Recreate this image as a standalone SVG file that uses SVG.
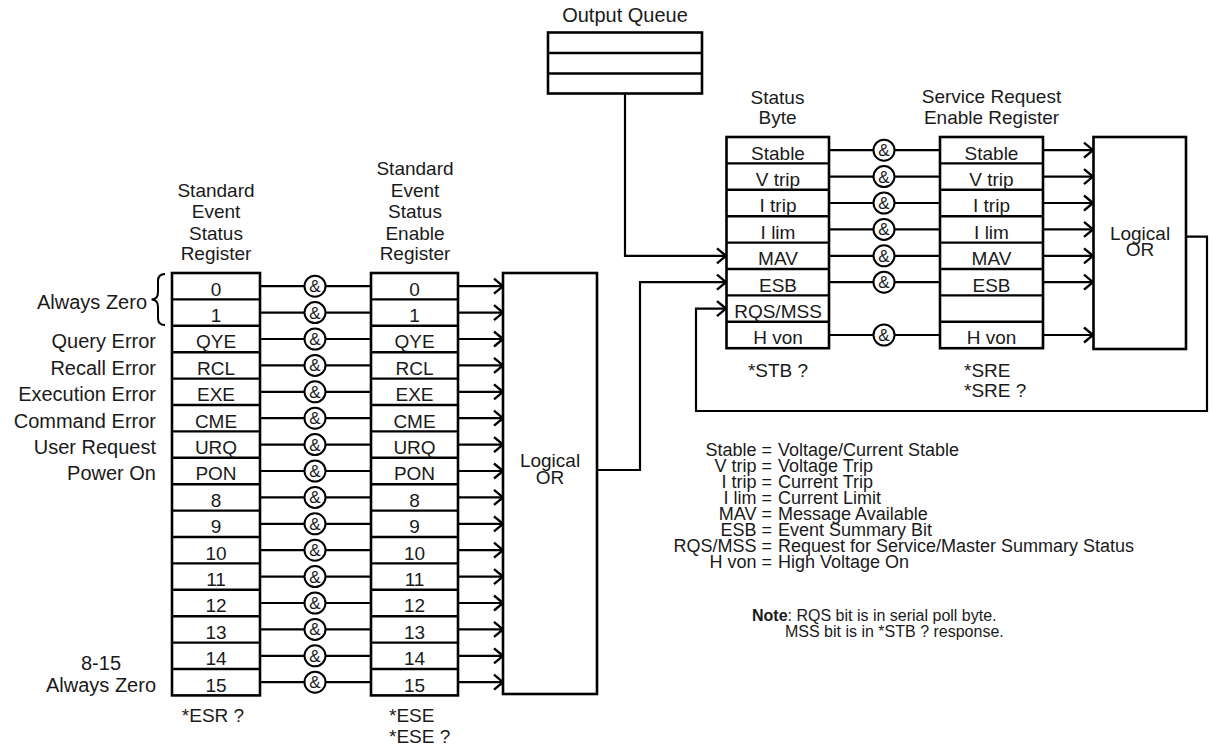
<svg xmlns="http://www.w3.org/2000/svg" width="1212" height="751" viewBox="0 0 1212 751">
<style>
.box{fill:#fff;stroke:#000;stroke-width:2.6}
.div{stroke:#000;stroke-width:2.4}
.ln{fill:none;stroke:#000;stroke-width:2.2}
text{font-family:"Liberation Sans",Arial,sans-serif;fill:#1a1a1a}
.t{font-size:19px;text-anchor:middle}
.lbl{font-size:20px;text-anchor:end}
.lg{font-size:18px}
.nt{font-size:16px}
.gate circle{fill:#fff;stroke:#000;stroke-width:2}
.gate text{font-size:17px;text-anchor:middle}
</style>
<defs>
<marker id="chev" markerUnits="userSpaceOnUse" markerWidth="14" markerHeight="18" refX="11" refY="9" orient="auto" overflow="visible">
<path d="M2,1.5 L11,9 L2,16.5" fill="none" stroke="#000" stroke-width="2.4"/>
</marker>
</defs>

<g id="connectors">
<path class="ln" d="M260,286.2H371M260,312.6H371M260,339H371M260,365.4H371M260,391.8H371M260,418.2H371M260,444.6H371M260,471H371M260,497.4H371M260,523.8H371M260,550.2H371M260,576.6H371M260,603H371M260,629.4H371M260,655.8H371M260,682.2H371"/>
<g marker-end="url(#chev)">
<line class="ln" x1="458" y1="286.2" x2="503" y2="286.2"/>
<line class="ln" x1="458" y1="312.6" x2="503" y2="312.6"/>
<line class="ln" x1="458" y1="339" x2="503" y2="339"/>
<line class="ln" x1="458" y1="365.4" x2="503" y2="365.4"/>
<line class="ln" x1="458" y1="391.8" x2="503" y2="391.8"/>
<line class="ln" x1="458" y1="418.2" x2="503" y2="418.2"/>
<line class="ln" x1="458" y1="444.6" x2="503" y2="444.6"/>
<line class="ln" x1="458" y1="471" x2="503" y2="471"/>
<line class="ln" x1="458" y1="497.4" x2="503" y2="497.4"/>
<line class="ln" x1="458" y1="523.8" x2="503" y2="523.8"/>
<line class="ln" x1="458" y1="550.2" x2="503" y2="550.2"/>
<line class="ln" x1="458" y1="576.6" x2="503" y2="576.6"/>
<line class="ln" x1="458" y1="603" x2="503" y2="603"/>
<line class="ln" x1="458" y1="629.4" x2="503" y2="629.4"/>
<line class="ln" x1="458" y1="655.8" x2="503" y2="655.8"/>
<line class="ln" x1="458" y1="682.2" x2="503" y2="682.2"/>
<polyline class="ln" points="597,470 640,470 640,282.2 726,282.2"/>
<polyline class="ln" points="625,93 625,255.8 726,255.8"/>
<polyline class="ln" points="1186,236.7 1207,236.7 1207,411 696,411 696,308.6 726,308.6"/>
<line class="ln" x1="1043" y1="150.2" x2="1093" y2="150.2"/>
<line class="ln" x1="1043" y1="176.6" x2="1093" y2="176.6"/>
<line class="ln" x1="1043" y1="203" x2="1093" y2="203"/>
<line class="ln" x1="1043" y1="229.4" x2="1093" y2="229.4"/>
<line class="ln" x1="1043" y1="255.8" x2="1093" y2="255.8"/>
<line class="ln" x1="1043" y1="282.2" x2="1093" y2="282.2"/>
<line class="ln" x1="1043" y1="335" x2="1093" y2="335"/>
</g>
<path class="ln" d="M829,150.2H940M829,176.6H940M829,203H940M829,229.4H940M829,255.8H940M829,282.2H940M829,335H940"/>
</g>

<g id="gates" class="gate">
<circle cx="315" cy="286.2" r="10.5"/><text x="315" y="292.2">&amp;</text>
<circle cx="315" cy="312.6" r="10.5"/><text x="315" y="318.6">&amp;</text>
<circle cx="315" cy="339" r="10.5"/><text x="315" y="345">&amp;</text>
<circle cx="315" cy="365.4" r="10.5"/><text x="315" y="371.4">&amp;</text>
<circle cx="315" cy="391.8" r="10.5"/><text x="315" y="397.8">&amp;</text>
<circle cx="315" cy="418.2" r="10.5"/><text x="315" y="424.2">&amp;</text>
<circle cx="315" cy="444.6" r="10.5"/><text x="315" y="450.6">&amp;</text>
<circle cx="315" cy="471" r="10.5"/><text x="315" y="477">&amp;</text>
<circle cx="315" cy="497.4" r="10.5"/><text x="315" y="503.4">&amp;</text>
<circle cx="315" cy="523.8" r="10.5"/><text x="315" y="529.8">&amp;</text>
<circle cx="315" cy="550.2" r="10.5"/><text x="315" y="556.2">&amp;</text>
<circle cx="315" cy="576.6" r="10.5"/><text x="315" y="582.6">&amp;</text>
<circle cx="315" cy="603" r="10.5"/><text x="315" y="609">&amp;</text>
<circle cx="315" cy="629.4" r="10.5"/><text x="315" y="635.4">&amp;</text>
<circle cx="315" cy="655.8" r="10.5"/><text x="315" y="661.8">&amp;</text>
<circle cx="315" cy="682.2" r="10.5"/><text x="315" y="688.2">&amp;</text>
<circle cx="884" cy="150.2" r="10.5"/><text x="884" y="156.2">&amp;</text>
<circle cx="884" cy="176.6" r="10.5"/><text x="884" y="182.6">&amp;</text>
<circle cx="884" cy="203" r="10.5"/><text x="884" y="209">&amp;</text>
<circle cx="884" cy="229.4" r="10.5"/><text x="884" y="235.4">&amp;</text>
<circle cx="884" cy="255.8" r="10.5"/><text x="884" y="261.8">&amp;</text>
<circle cx="884" cy="282.2" r="10.5"/><text x="884" y="288.2">&amp;</text>
<circle cx="884" cy="335" r="10.5"/><text x="884" y="341">&amp;</text>
</g>

<g id="esr">
<text class="t" x="216" y="197">Standard</text>
<text class="t" x="216" y="218">Event</text>
<text class="t" x="216" y="239.5">Status</text>
<text class="t" x="216" y="260">Register</text>
<rect class="box" x="172" y="273" width="88" height="422.4"/>
<path class="div" d="M172,299.4H260M172,325.8H260M172,352.2H260M172,378.6H260M172,405H260M172,431.4H260M172,457.8H260M172,484.2H260M172,510.6H260M172,537H260M172,563.4H260M172,589.8H260M172,616.2H260M172,642.6H260M172,669H260"/>
<text class="t" x="216" y="295.5">0</text>
<text class="t" x="216" y="321.9">1</text>
<text class="t" x="216" y="348.3">QYE</text>
<text class="t" x="216" y="374.7">RCL</text>
<text class="t" x="216" y="401.1">EXE</text>
<text class="t" x="216" y="427.5">CME</text>
<text class="t" x="216" y="453.9">URQ</text>
<text class="t" x="216" y="480.3">PON</text>
<text class="t" x="216" y="506.7">8</text>
<text class="t" x="216" y="533.1">9</text>
<text class="t" x="216" y="559.5">10</text>
<text class="t" x="216" y="585.9">11</text>
<text class="t" x="216" y="612.3">12</text>
<text class="t" x="216" y="638.7">13</text>
<text class="t" x="216" y="665.1">14</text>
<text class="t" x="216" y="691.5">15</text>
<text class="t" x="213" y="721.5">*ESR ?</text>
</g>

<g id="esr-labels">
<text class="lbl" x="147" y="308.5">Always Zero</text>
<path d="M165,274 Q158,274 158,281 L158,292 Q158,299.5 151.5,299.5 Q158,299.5 158,307 L158,318 Q158,325 165,325" fill="none" stroke="#000" stroke-width="2"/>
<text class="lbl" x="156" y="348.3">Query Error</text>
<text class="lbl" x="156" y="374.7">Recall Error</text>
<text class="lbl" x="156" y="401.1">Execution Error</text>
<text class="lbl" x="156" y="427.5">Command Error</text>
<text class="lbl" x="156" y="453.9">User Request</text>
<text class="lbl" x="156" y="480.3">Power On</text>
<text class="lbl" x="101" y="670" style="text-anchor:middle">8-15</text>
<text class="lbl" x="101" y="691.5" style="text-anchor:middle">Always Zero</text>
</g>

<g id="ese">
<text class="t" x="415" y="175">Standard</text>
<text class="t" x="415" y="196.5">Event</text>
<text class="t" x="415" y="218">Status</text>
<text class="t" x="415" y="239.5">Enable</text>
<text class="t" x="415" y="260">Register</text>
<rect class="box" x="371" y="273" width="87" height="422.4"/>
<path class="div" d="M371,299.4H458M371,325.8H458M371,352.2H458M371,378.6H458M371,405H458M371,431.4H458M371,457.8H458M371,484.2H458M371,510.6H458M371,537H458M371,563.4H458M371,589.8H458M371,616.2H458M371,642.6H458M371,669H458"/>
<text class="t" x="414.5" y="295.5">0</text>
<text class="t" x="414.5" y="321.9">1</text>
<text class="t" x="414.5" y="348.3">QYE</text>
<text class="t" x="414.5" y="374.7">RCL</text>
<text class="t" x="414.5" y="401.1">EXE</text>
<text class="t" x="414.5" y="427.5">CME</text>
<text class="t" x="414.5" y="453.9">URQ</text>
<text class="t" x="414.5" y="480.3">PON</text>
<text class="t" x="414.5" y="506.7">8</text>
<text class="t" x="414.5" y="533.1">9</text>
<text class="t" x="414.5" y="559.5">10</text>
<text class="t" x="414.5" y="585.9">11</text>
<text class="t" x="414.5" y="612.3">12</text>
<text class="t" x="414.5" y="638.7">13</text>
<text class="t" x="414.5" y="665.1">14</text>
<text class="t" x="414.5" y="691.5">15</text>
<text class="t" x="389" y="721.5" style="text-anchor:start">*ESE</text>
<text class="t" x="389" y="743" style="text-anchor:start">*ESE ?</text>
</g>

<g id="or-left">
<rect class="box" x="503" y="273" width="94" height="421"/>
<text class="t" x="550" y="467">Logical</text>
<text class="t" x="550" y="484">OR</text>
</g>

<g id="output-queue">
<text class="t" x="625" y="22" style="font-size:20px">Output Queue</text>
<rect class="box" x="548" y="32.5" width="154" height="61"/>
<path class="div" d="M548,53H702M548,73.5H702"/>
</g>

<g id="status-byte">
<text class="t" x="777.5" y="104">Status</text>
<text class="t" x="777.5" y="124">Byte</text>
<rect class="box" x="726.5" y="137" width="102.5" height="211.2"/>
<path class="div" d="M726.5,163.4H829M726.5,189.8H829M726.5,216.2H829M726.5,242.6H829M726.5,269H829M726.5,295.4H829M726.5,321.8H829"/>
<text class="t" x="778" y="159.5">Stable</text>
<text class="t" x="778" y="185.9">V trip</text>
<text class="t" x="778" y="212.3">I trip</text>
<text class="t" x="778" y="238.7">I lim</text>
<text class="t" x="778" y="265.1">MAV</text>
<text class="t" x="778" y="291.5">ESB</text>
<text class="t" x="778" y="317.9">RQS/MSS</text>
<text class="t" x="778" y="344.3">H von</text>
<text class="t" x="778" y="377">*STB ?</text>
</g>

<g id="sre">
<text class="t" x="991.5" y="103">Service Request</text>
<text class="t" x="991.5" y="123.5">Enable Register</text>
<rect class="box" x="940" y="137" width="103" height="211.2"/>
<path class="div" d="M940,163.4H1043M940,189.8H1043M940,216.2H1043M940,242.6H1043M940,269H1043M940,295.4H1043M940,321.8H1043"/>
<text class="t" x="991.5" y="159.5">Stable</text>
<text class="t" x="991.5" y="185.9">V trip</text>
<text class="t" x="991.5" y="212.3">I trip</text>
<text class="t" x="991.5" y="238.7">I lim</text>
<text class="t" x="991.5" y="265.1">MAV</text>
<text class="t" x="991.5" y="291.5">ESB</text>
<text class="t" x="991.5" y="344.3">H von</text>
<text class="t" x="964" y="377" style="text-anchor:start">*SRE</text>
<text class="t" x="964" y="397" style="text-anchor:start">*SRE ?</text>
</g>

<g id="or-right">
<rect class="box" x="1093.5" y="137" width="92.5" height="212"/>
<text class="t" x="1140" y="240">Logical</text>
<text class="t" x="1140" y="256">OR</text>
</g>

<g id="legend" class="lg">
<text x="772" y="456" text-anchor="end">Stable =</text><text x="778" y="456">Voltage/Current Stable</text>
<text x="772" y="472" text-anchor="end">V trip =</text><text x="778" y="472">Voltage Trip</text>
<text x="772" y="488" text-anchor="end">I trip =</text><text x="778" y="488">Current Trip</text>
<text x="772" y="504" text-anchor="end">I lim =</text><text x="778" y="504">Current Limit</text>
<text x="772" y="520" text-anchor="end">MAV =</text><text x="778" y="520">Message Available</text>
<text x="772" y="536" text-anchor="end">ESB =</text><text x="778" y="536">Event Summary Bit</text>
<text x="772" y="552" text-anchor="end">RQS/MSS =</text><text x="778" y="552">Request for Service/Master Summary Status</text>
<text x="772" y="568" text-anchor="end">H von =</text><text x="778" y="568">High Voltage On</text>
</g>

<g id="note" class="nt">
<text x="752" y="621"><tspan font-weight="bold">Note</tspan>:  RQS bit is in serial poll byte.</text>
<text x="785" y="637">MSS bit is in *STB ? response.</text>
</g>
</svg>
